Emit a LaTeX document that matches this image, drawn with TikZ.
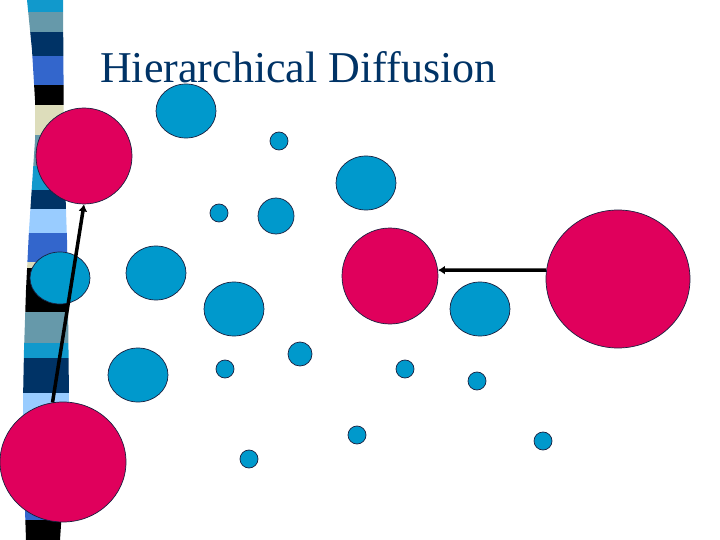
\documentclass[tikz,border=0pt]{standalone}
\usepackage{fontspec}
\setmainfont{Liberation Serif}
\usepackage{tikz}
\usetikzlibrary{arrows.meta,shapes.geometric}
\definecolor{dotblue}{HTML}{0099CC}
\definecolor{dotred}{HTML}{E0005C}
\definecolor{rim}{HTML}{1A2040}
\definecolor{titleblue}{HTML}{003366}
\definecolor{barcyan}{HTML}{1199CC}
\definecolor{barsteel}{HTML}{6699AA}
\definecolor{barnavy}{HTML}{003366}
\definecolor{barroyal}{HTML}{3366CC}
\definecolor{barbeige}{HTML}{DDDDBB}
\definecolor{barlight}{HTML}{99CCFF}
\tikzstyle{dot}=[ellipse, draw=rim, line width=0.7pt, inner sep=0pt]
\tikzstyle{pointblue}=[dot, fill=dotblue]
\tikzstyle{pointred}=[dot, fill=dotred]
\tikzstyle{large}=[minimum width=60pt, minimum height=54pt]
\tikzstyle{tiny}=[minimum width=18pt, minimum height=18pt]
\tikzstyle{arrow}=[draw=black, line width=3.5pt, -{Latex[length=7pt,width=9pt]}]

\begin{document}
\begin{tikzpicture}[x=1pt, y=-1pt]
		   \useasboundingbox (0,0) rectangle (720,540);
		   \fill[white] (0,0) rectangle (720,540);
		   % striped bar
		   \begin{scope}
			   \clip (27,0) -- (32,50) -- (35,100) -- (35,140) -- (33,170) -- (29,230) -- (26,290) -- (24,350) -- (23,400) -- (24,480) -- (26,540)
			     -- (60,540) -- (62,510) -- (66,460) -- (69,400) -- (68,300) -- (67,240) -- (64,150) -- (63,0) -- cycle;
			   \foreach \ya/\yb/\col in {0/12/barcyan, 12/32/barsteel, 32/56/barnavy, 56/85/barroyal, 85/105/black,
			     105/135/barbeige, 135/166/barsteel, 166/190/barcyan, 190/209/barnavy, 209/233/barlight, 233/262/barroyal,
			     262/268/barbeige, 268/312/black, 312/343/barsteel, 343/358/barcyan, 358/393/barnavy, 393/440/barlight,
			     440/520/barroyal, 520/540/black}
				   \fill[\col] (0,\ya) rectangle (80,\yb);
		   \end{scope}
		   \node (title) at (100,83) [anchor=base west, inner sep=0pt, text=titleblue, font=\fontsize{44}{50}\selectfont] {Hierarchical Diffusion};
		   \begin{scope}
			   \node (r1) at (84,156)[pointred, minimum width=96pt, minimum height=96pt] {};
			   \node (r2) at (63,462)[pointred, minimum width=126pt, minimum height=120pt] {};
			   \node (r3) at (390,276)[pointred, minimum width=96pt, minimum height=96pt] {};
			   \node (r4) at (618,279)[pointred, minimum width=144pt, minimum height=138pt] {};
			   \node (b1) at (186,111)[pointblue, large] {};
			   \node (b2) at (366,183)[pointblue, large] {};
			   \node (b3) at (60,278)[pointblue, minimum width=60pt, minimum height=52pt] {};
			   \node (b4) at (156,273)[pointblue, large] {};
			   \node (b5) at (234,309)[pointblue, large] {};
			   \node (b6) at (480,309)[pointblue, large] {};
			   \node (b7) at (138,375)[pointblue, large] {};
			   \node (b8) at (276,216)[pointblue, minimum width=36pt, minimum height=36pt] {};
			   \node (b9) at (300,354)[pointblue, minimum width=24pt, minimum height=24pt] {};
			   \node (s1) at (279,141)[pointblue, tiny] {};
			   \node (s2) at (219,213)[pointblue, tiny] {};
			   \node (s3) at (225,369)[pointblue, tiny] {};
			   \node (s4) at (405,369)[pointblue, tiny] {};
			   \node (s5) at (477,381)[pointblue, tiny] {};
			   \node (s6) at (357,435)[pointblue, tiny] {};
			   \node (s7) at (249,459)[pointblue, tiny] {};
			   \node (s8) at (543,441)[pointblue, tiny] {};
		   \end{scope}
		   \begin{scope}
			   \draw [arrow] (r2.100) -- (r1.270);
			   \draw [arrow] (r4.173) -- (r3.7);
		   \end{scope}
\end{tikzpicture}
\end{document}
